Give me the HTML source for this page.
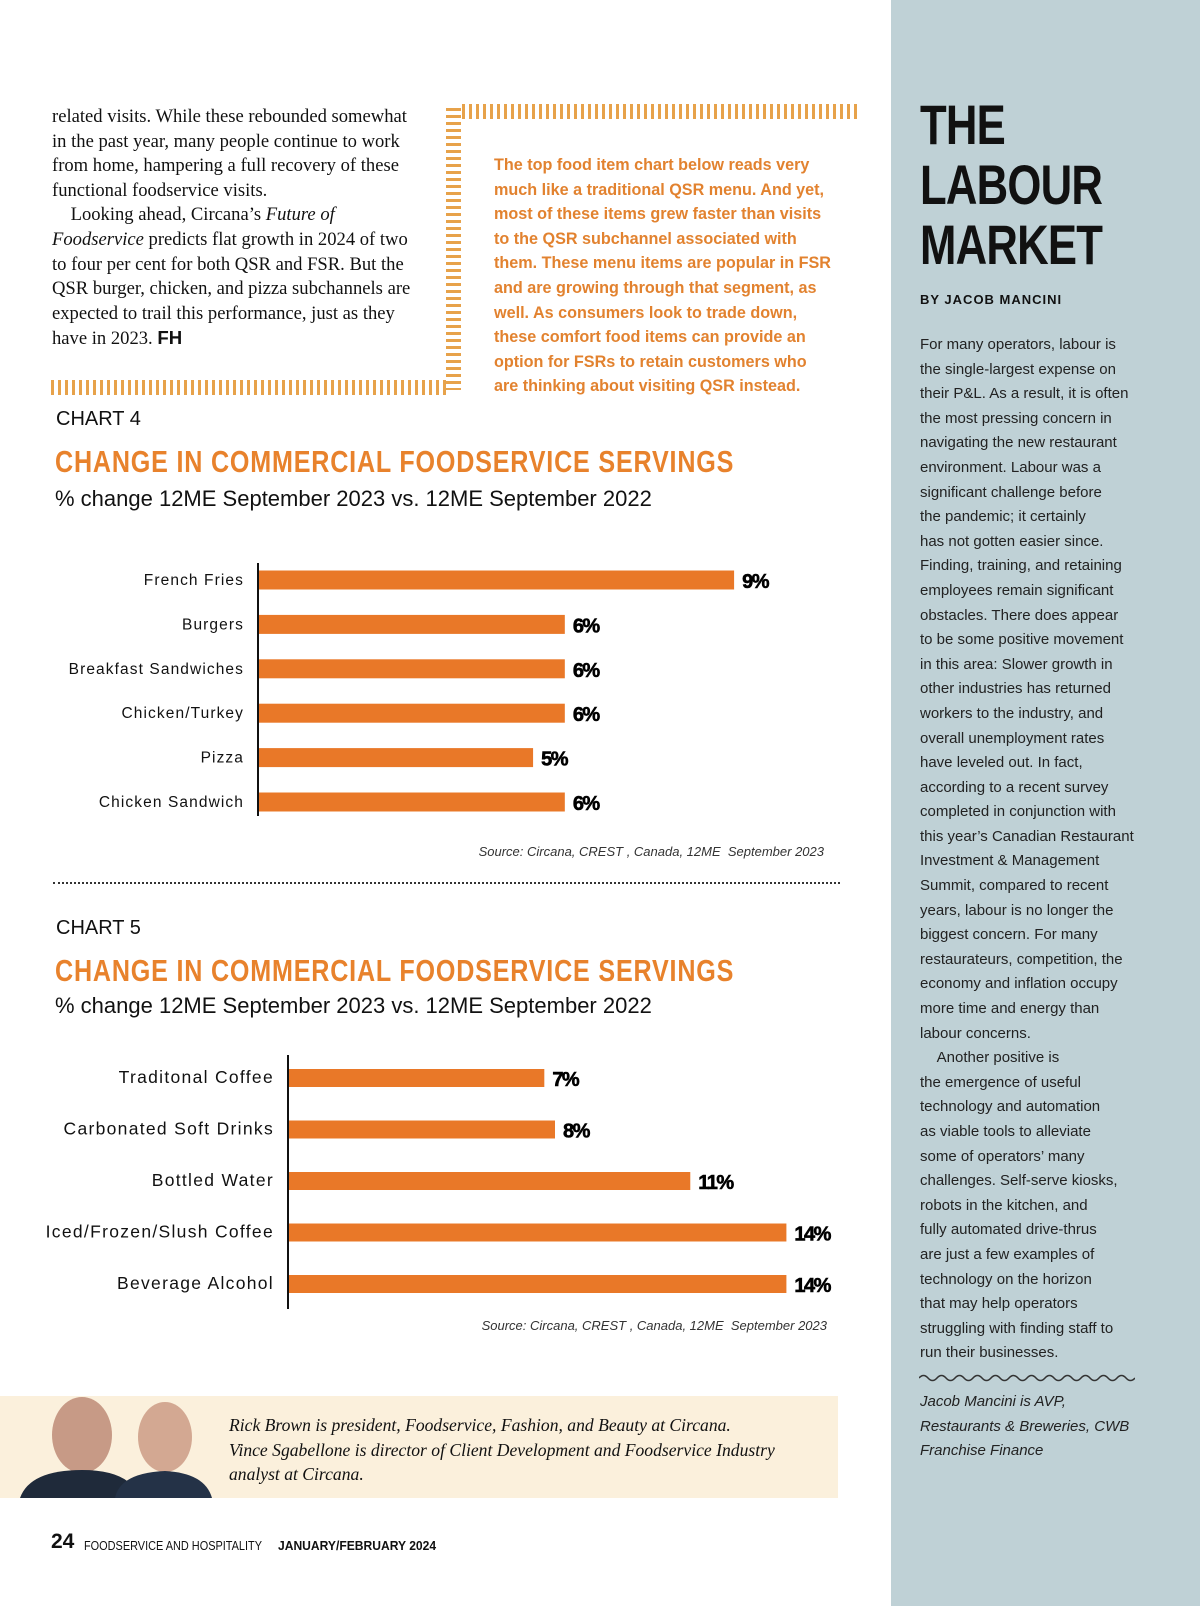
<!DOCTYPE html>
<html><head><meta charset="utf-8">
<style>
*{margin:0;padding:0;box-sizing:border-box}
body{width:1200px;height:1606px;position:relative;background:#fff;overflow:hidden;font-family:"Liberation Sans",sans-serif;color:#111}
.abs{position:absolute}
.serif{font-family:"Liberation Serif",serif}
.lc div{height:24.6px;line-height:24.6px;font-size:18.6px;white-space:nowrap}
.call div{height:24.6px;line-height:24.6px;font-size:16.5px;font-weight:bold;color:#e2822f;white-space:nowrap;transform:scaleX(0.98);transform-origin:left}
.side div{height:24.6px;line-height:24.6px;font-size:15px;white-space:nowrap;color:#222}
.hbar{background:repeating-linear-gradient(90deg,#e7a24a 0 3px,transparent 3px 7px)}
.vbar{background:repeating-linear-gradient(180deg,#e7a24a 0 3px,transparent 3px 7px)}
.ctitle{font-weight:bold;color:#e8822c;font-size:31px;transform:scaleX(0.81);transform-origin:left;white-space:nowrap;letter-spacing:1px}
.csub{font-size:22px;white-space:nowrap}
.src{font-size:13px;font-style:italic;color:#333;white-space:nowrap}
</style></head>
<body>
<div class="abs" style="left:891px;top:0;width:309px;height:1606px;background:#bfd1d6"></div>

<div class="abs lc serif" style="left:52px;top:105px">
<div>related visits. While these rebounded somewhat</div>
<div>in the past year, many people continue to work</div>
<div>from home, hampering a full recovery of these</div>
<div>functional foodservice visits.</div>
<div>&nbsp;&nbsp;&nbsp;&nbsp;Looking ahead, Circana’s <i>Future of</i></div>
<div><i>Foodservice</i> predicts flat growth in 2024 of two</div>
<div>to four per cent for both QSR and FSR. But the</div>
<div>QSR burger, chicken, and pizza subchannels are</div>
<div>expected to trail this performance, just as they</div>
<div>have in 2023. <b style="font-family:'Liberation Sans'">FH</b></div>
</div>

<div class="abs hbar" style="left:462px;top:104px;width:396px;height:15px"></div>
<div class="abs vbar" style="left:446px;top:108px;width:15px;height:282px"></div>
<div class="abs hbar" style="left:51px;top:380px;width:398px;height:15px"></div>

<div class="abs call" style="left:494px;top:153px">
<div>The top food item chart below reads very</div>
<div>much like a traditional QSR menu. And yet,</div>
<div>most of these items grew faster than visits</div>
<div>to the QSR subchannel associated with</div>
<div>them. These menu items are popular in FSR</div>
<div>and are growing through that segment, as</div>
<div>well. As consumers look to trade down,</div>
<div>these comfort food items can provide an</div>
<div>option for FSRs to retain customers who</div>
<div>are thinking about visiting QSR instead.</div>
</div>

<div class="abs" style="left:56px;top:408px;font-size:20px">CHART 4</div>
<div class="abs ctitle" style="left:55px;top:444px">CHANGE IN COMMERCIAL FOODSERVICE SERVINGS</div>
<div class="abs csub" style="left:55px;top:486px">% change 12ME September 2023 vs. 12ME September 2022</div>
<svg class="abs" style="left:0;top:0" width="891" height="1606" id="c4"></svg>
<div class="abs src" style="right:376px;top:844px">Source: Circana, CREST , Canada, 12ME&nbsp; September 2023</div>

<div class="abs" style="left:53px;top:882px;width:787px;border-top:2px dotted #333"></div>

<div class="abs" style="left:56px;top:917px;font-size:20px">CHART 5</div>
<div class="abs ctitle" style="left:55px;top:953px">CHANGE IN COMMERCIAL FOODSERVICE SERVINGS</div>
<div class="abs csub" style="left:55px;top:993px">% change 12ME September 2023 vs. 12ME September 2022</div>
<div class="abs src" style="right:373px;top:1318px">Source: Circana, CREST , Canada, 12ME&nbsp; September 2023</div>

<div class="abs" style="left:0;top:1396px;width:838px;height:102px;background:#fbf0dc"></div>
<svg class="abs" style="left:20px;top:1385px" width="192" height="113">
<ellipse cx="62" cy="50" rx="30" ry="38" fill="#c79a86"/>
<path d="M0 113 Q10 85 62 85 Q110 85 120 113Z" fill="#1f2a3a"/>
<ellipse cx="145" cy="52" rx="27" ry="35" fill="#d3a892"/>
<path d="M95 113 Q100 88 145 86 Q185 88 192 113Z" fill="#243247"/>
</svg>
<div class="abs serif" style="left:229px;top:1413px;font-style:italic;font-size:17.6px;line-height:24.6px;white-space:nowrap">
Rick Brown is president, Foodservice, Fashion, and Beauty at Circana.<br>
Vince Sgabellone is director of Client Development and Foodservice Industry<br>
analyst at Circana.</div>

<div class="abs" style="left:51px;top:1530px;font-size:21px;font-weight:bold">24</div>
<div class="abs" style="left:84px;top:1538px;font-size:13px;white-space:nowrap;transform:scaleX(0.84);transform-origin:left">FOODSERVICE AND HOSPITALITY</div>
<div class="abs" style="left:278px;top:1538px;font-size:13px;font-weight:bold;white-space:nowrap;transform:scaleX(0.93);transform-origin:left">JANUARY/FEBRUARY 2024</div>

<div class="abs" style="left:920px;top:95px;font-weight:900;font-size:56px;line-height:60px;transform:scaleX(0.78);transform-origin:left;letter-spacing:-1px">THE<br>LABOUR<br>MARKET</div>
<div class="abs" style="left:920px;top:292px;font-size:13px;font-weight:bold;letter-spacing:1px">BY JACOB MANCINI</div>
<div class="abs side" style="left:920px;top:333px">
<div>For many operators, labour is</div><div>the single-largest expense on</div><div>their P&amp;L. As a result, it is often</div><div>the most pressing concern in</div><div>navigating the new restaurant</div><div>environment. Labour was a</div><div>significant challenge before</div><div>the pandemic; it certainly</div><div>has not gotten easier since.</div><div>Finding, training, and retaining</div><div>employees remain significant</div><div>obstacles. There does appear</div><div>to be some positive movement</div><div>in this area: Slower growth in</div><div>other industries has returned</div><div>workers to the industry, and</div><div>overall unemployment rates</div><div>have leveled out. In fact,</div><div>according to a recent survey</div><div>completed in conjunction with</div><div>this year’s Canadian Restaurant</div><div>Investment &amp; Management</div><div>Summit, compared to recent</div><div>years, labour is no longer the</div><div>biggest concern. For many</div><div>restaurateurs, competition, the</div><div>economy and inflation occupy</div><div>more time and energy than</div><div>labour concerns.</div><div>&nbsp;&nbsp;&nbsp;&nbsp;Another positive is</div><div>the emergence of useful</div><div>technology and automation</div><div>as viable tools to alleviate</div><div>some of operators’ many</div><div>challenges. Self-serve kiosks,</div><div>robots in the kitchen, and</div><div>fully automated drive-thrus</div><div>are just a few examples of</div><div>technology on the horizon</div><div>that may help operators</div><div>struggling with finding staff to</div><div>run their businesses.</div>
</div>
<svg class="abs" style="left:919px;top:1373px" width="216" height="10">
<path d="M0 5 q4.5 -5 9 0 t9 0 t9 0 t9 0 t9 0 t9 0 t9 0 t9 0 t9 0 t9 0 t9 0 t9 0 t9 0 t9 0 t9 0 t9 0 t9 0 t9 0 t9 0 t9 0 t9 0 t9 0 t9 0 t9 0" fill="none" stroke="#333" stroke-width="1.5"/></svg>
<div class="abs side" style="left:920px;top:1390px;font-style:italic">
<div style="font-style:italic">Jacob Mancini is AVP,</div><div style="font-style:italic">Restaurants &amp; Breweries, CWB</div><div style="font-style:italic">Franchise Finance</div></div>

<script>
const cats4 = ["French Fries","Burgers","Breakfast Sandwiches","Chicken/Turkey","Pizza","Chicken Sandwich"];
const vals4 = [9.0,5.8,5.8,5.8,5.2,5.8];
const labels4 = ["9%","6%","6%","6%","5%","6%"];
const cats5 = ["Traditonal Coffee","Carbonated Soft Drinks","Bottled Water","Iced/Frozen/Slush Coffee","Beverage Alcohol"];
const vals5 = [7.2,7.5,11.3,14,14];
const labels5 = ["7%","8%","11%","14%","14%"];
const NS="http://www.w3.org/2000/svg";
const svg=document.getElementById('c4');
function mk(t,a){const e=document.createElementNS(NS,t);for(const k in a)e.setAttribute(k,a[k]);svg.appendChild(e);return e;}
function chart(prefix,cats,vals,labels,ax,y0,y1,rowTop,rowStep,pxPer,bh,fs,ls){
  const x=v=>ax+v*pxPer;
  const y=i=>rowTop+i*rowStep;
  const axis=mk('line',{x1:ax,x2:ax,y1:y0,y2:y1,stroke:'#111','stroke-width':2});
  
  
  cats.forEach((c,i)=>{
    const r=mk('rect',{x:ax+1,y:y(i)-bh/2,width:x(vals[i])-ax-1,height:bh,fill:'#e97828'});
    
    
    const t=mk('text',{x:ax-14,y:y(i)+5,'text-anchor':'end','font-size':fs,'letter-spacing':ls,'font-family':'Liberation Sans, sans-serif',fill:'#111'});
    t.textContent=c;
    
    
    const v=mk('text',{x:x(vals[i])+8,y:y(i)+8,'font-size':20,'font-weight':'bold','font-family':'Liberation Sans Narrow, Liberation Sans, sans-serif',fill:'#000','letter-spacing':'-1.5','stroke':'#000','stroke-width':0.6});
    v.textContent=labels[i];
    
    
  });
}
chart('chart4',cats4,vals4,labels4,258,563,816,580,44.4,52.9,19,15.5,'1.1');
chart('chart5',cats5,vals5,labels5,288,1055,1309,1078,51.5,35.6,18,17.5,'1.3');
</script>
</body></html>
